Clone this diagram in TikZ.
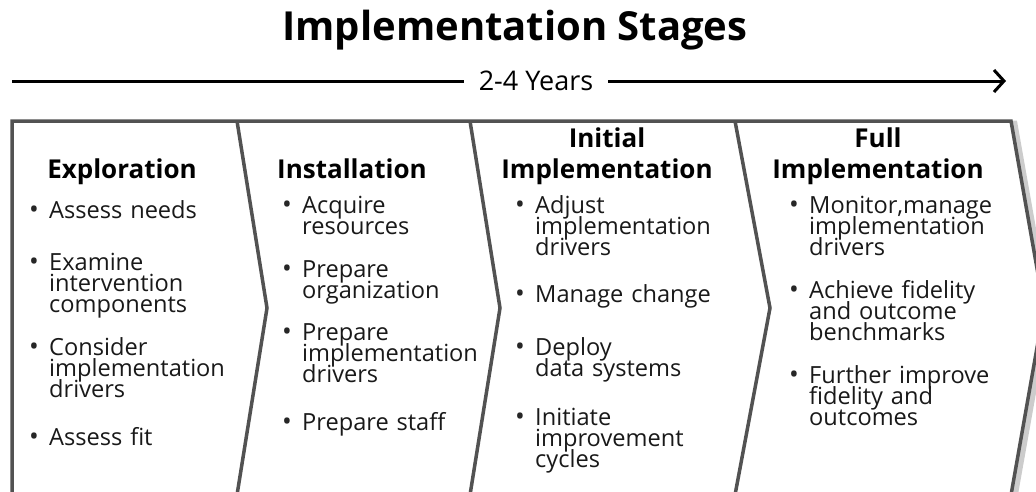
\documentclass[tikz,border=0pt]{standalone}
\usepackage{fontspec}
\setmainfont{Open Sans}
\usetikzlibrary{arrows.meta}
\tikzset{
  frame/.style={draw=black!68, line width=3.5pt, line join=miter},
  shade/.style={draw=black!20, line width=7pt, line join=miter},
  head/.style={font=\fontsize{26}{31}\selectfont\bfseries, text width=280pt, align=center, anchor=base, inner sep=0pt},
  itm/.style={font=\fontsize{23.6}{21}\selectfont, execute at begin node={\lineskiplimit=-50pt\relax}, text width=230pt, align=left, anchor=base west, inner sep=0pt, text=black!90},
  bul/.style={font=\fontsize{26}{21}\selectfont, anchor=base west, inner sep=0pt, text=black!85},
}
\begin{document}
\begin{tikzpicture}[x=1pt,y=-1pt]
    \useasboundingbox (0,0) rectangle (1036,491);
    \clip (0,0) rectangle (1036,491);
    \node[font=\fontsize{40}{44}\selectfont\bfseries, anchor=base] (title) at (515,40) {Implementation Stages};
    % time line
    \coordinate (tl) at (12,81);
    \coordinate (tr) at (1006,81);
    \node[fill=white, inner xsep=15pt, inner ysep=2pt, font=\fontsize{27}{30}\selectfont] (years) at (536,81) {2-4 Years};
    \draw[line width=3pt] (tl) -- (years);
    \draw[line width=3pt, -{Straight Barb[length=10pt,width=22pt]}] (years) -- (tr);
    % chevrons, shadow first
    \draw[shade] (15,497) -- (15,124) -- (1014,124) -- (1047,311) -- (1014,497);
    \draw[shade] (240,124) -- (270,311) -- (240,497);
    \draw[shade] (473,124) -- (503,311) -- (473,497);
    \draw[shade] (738,124) -- (773,311) -- (738,497);
    \fill[white] (12,121) -- (1011,121) -- (1044,308) -- (1011,495) -- (12,495) -- cycle;
    \draw[frame] (12,495) -- (12,121) -- (1011,121) -- (1044,308) -- (1011,495);
    \draw[frame] (237,121) -- (267,308) -- (237,495);
    \draw[frame] (470,121) -- (500,308) -- (470,495);
    \draw[frame] (735,121) -- (770,308) -- (735,495);
    % stage headings
    \node[head] (hexp) at (122,178) {Exploration};
    \node[head] (hins) at (352,178) {Installation};
    \node[head] (hini) at (607,147) {Initial\\Implementation};
    \node[head] (hful) at (878,147) {Full\\Implementation};
    % Exploration
    \node[itm] (e1) at (49,218) {Assess needs};
    \node[itm] (e2) at (49,270) {Examine\\intervention\\components};
    \node[itm] (e3) at (49,355) {Consider\\implementation\\drivers};
    \node[itm] (e4) at (49,445) {Assess fit};
    % Installation
    \node[itm] (i1) at (302,213) {Acquire\\resources};
    \node[itm] (i2) at (302,277) {Prepare\\organization};
    \node[itm] (i3) at (302,340) {Prepare\\implementation\\drivers};
    \node[itm] (i4) at (302,430) {Prepare staff};
    % Initial Implementation
    \node[itm] (n1) at (535,213) {Adjust\\implementation\\drivers};
    \node[itm] (n2) at (535,302) {Manage change};
    \node[itm] (n3) at (535,355) {Deploy\\data systems};
    \node[itm] (n4) at (535,425) {Initiate\\improvement\\cycles};
    % Full Implementation
    \node[itm] (f1) at (809,213) {Monitor,manage\\implementation\\drivers};
    \node[itm] (f2) at (809,298) {Achieve fidelity\\and outcome\\benchmarks};
    \node[itm] (f3) at (809,383) {Further improve\\fidelity and\\outcomes};
    % bullets
    \foreach \s in {e1,e2,e3,e4,i1,i2,i3,i4,n1,n2,n3,n4,f1,f2,f3}
        \node[bul] at ([xshift=-20pt]\s.base west) {\textbullet};
\end{tikzpicture}
\end{document}
